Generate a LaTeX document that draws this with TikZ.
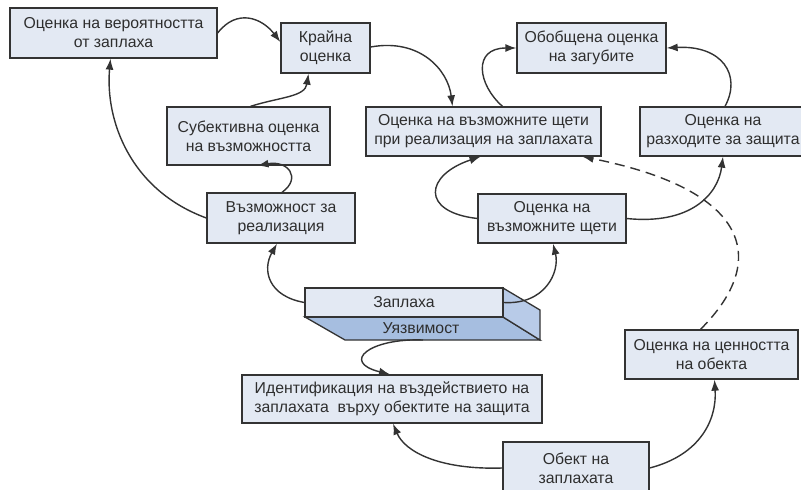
\documentclass[tikz,border=0pt]{standalone}
\usepackage{fontspec}
\setmainfont{Liberation Sans}
\usetikzlibrary{arrows.meta}
\definecolor{boxfill}{HTML}{E3E9F3}
\definecolor{boxline}{HTML}{333333}
\definecolor{slabblue}{HTML}{A6BEE0}
\definecolor{slabside}{HTML}{B8CBE8}
\definecolor{txt}{HTML}{2E2E2E}
\begin{document}
\begin{tikzpicture}[x=1pt,y=-1pt,
  box/.style={draw=boxline, fill=boxfill, line width=1.3pt, inner sep=0pt, align=center,
    text=txt, font=\fontsize{15.8}{19}\selectfont},
  conn/.style={draw=boxline, line width=1.4pt, -{Latex[length=11pt,width=8pt]}},
  dconn/.style={conn, dash pattern=on 10pt off 6pt}]
\useasboundingbox (0,0) rectangle (801,490);
\clip (0,0) rectangle (801,490);
\fill[white] (0,0) rectangle (801,490);

% slab (3D shape)
\filldraw[fill=slabblue, draw=boxline, line width=1.3pt] (305,317) -- (503,317) -- (540,340) -- (345,340) -- cycle;
\filldraw[fill=slabside, draw=boxline, line width=1.3pt] (503,288) -- (540,310) -- (540,340) -- (503,317) -- cycle;
\node[text=txt, font=\fontsize{15.8}{19}\selectfont] (vuln) at (421,328) {Уязвимост};
\coordinate (vulnb) at (423,340);

\node[box, minimum width=207pt, minimum height=50pt] (prob) at (113.5,33) {Оценка на вероятността\\от заплаха};
\node[box, minimum width=89pt, minimum height=50pt] (final) at (325.5,48) {Крайна\\оценка};
\node[box, minimum width=163pt, minimum height=58pt] (subj) at (248.5,136) {Субективна оценка\\на възможността};
\node[box, minimum width=148pt, minimum height=50pt] (poss) at (281,218) {Възможност за\\реализация};
\node[box, minimum width=235pt, minimum height=49pt] (dmgreal) at (483.5,131.5) {Оценка на възможните щети\\при реализация на заплахата};
\node[box, minimum width=166pt, minimum height=49pt] (cost) at (723,131.5) {Оценка на\\разходите за защита};
\node[box, minimum width=149pt, minimum height=50pt] (total) at (591.5,48) {Обобщена оценка\\на загубите};
\node[box, minimum width=148pt, minimum height=49pt] (dmg) at (552,218.5) {Оценка на\\възможните щети};
\node[box, minimum width=198pt, minimum height=29pt] (threat) at (404,302.5) {Заплаха};
\node[box, minimum width=300pt, minimum height=48pt] (ident) at (392,399) {Идентификация на въздействието на\\заплахата\ \ върху обектите на защита};
\node[box, minimum width=146pt, minimum height=52pt] (obj) at (576,468) {Обект на\\заплахата};
\node[box, minimum width=173pt, minimum height=49pt] (value) at (711.5,354.5) {Оценка на ценността\\на обекта};

% connectors
\draw[conn] (prob.east) .. controls (237,8) and (262,18) .. ([yshift=6pt]final.west);
\draw[conn] ([xshift=2pt]subj.north) .. controls (280,97) and (305,97) .. ([xshift=-17pt]final.south);
\draw[conn] ([xshift=1pt]poss.north) .. controls (302,178) and (288,160) .. ([xshift=9pt]subj.south);
\draw[conn] (poss.west) .. controls (130,190) and (105,120) .. ([xshift=-3pt]prob.south);
\draw[conn] ([yshift=1pt]final.east) .. controls (420,38) and (448,70) .. ([xshift=-31pt]dmgreal.north);
\draw[conn] ([xshift=19pt]dmgreal.north) .. controls (478,85) and (472,48) .. (total.west);
\draw[conn] ([xshift=2pt]cost.north) .. controls (742,75) and (722,45) .. (total.east);
\draw[conn] (dmg.west) .. controls (420,212) and (425,175) .. ([xshift=-3pt]dmgreal.south);
\draw[conn] (dmg.east) .. controls (690,225) and (718,195) .. (cost.south);
\draw[dconn] ([xshift=-11pt]value.north) .. controls (770,260) and (750,190) .. ([xshift=99pt]dmgreal.south);
\draw[conn] (threat.west) .. controls (268,296) and (262,270) .. ([xshift=-4pt]poss.south);
\draw[conn] (threat.east) .. controls (545,305) and (560,272) .. ([xshift=1pt]dmg.south);
\draw[conn] (vulnb) .. controls (370,338) and (340,362) .. ([xshift=-2pt]ident.north);
\draw[conn] (obj.west) .. controls (440,470) and (405,452) .. ([xshift=1pt]ident.south);
\draw[conn] (obj.east) .. controls (700,455) and (717,420) .. ([xshift=3pt]value.south);
\end{tikzpicture}
\end{document}
